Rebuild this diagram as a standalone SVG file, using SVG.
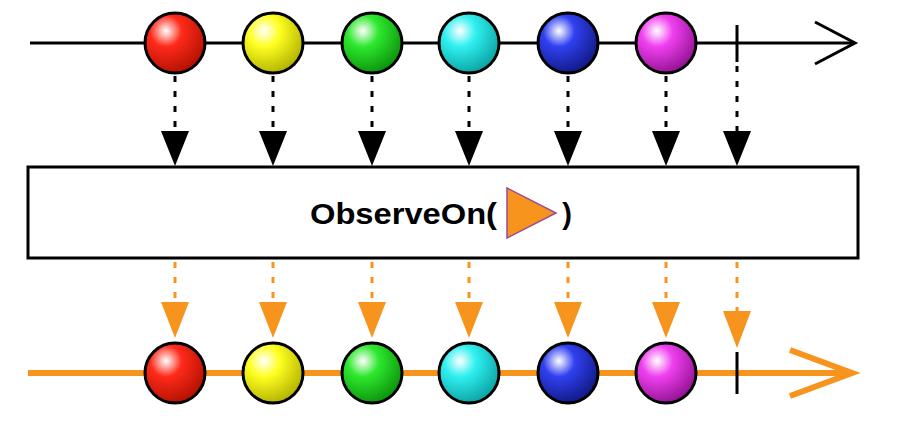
<svg xmlns="http://www.w3.org/2000/svg" width="908" height="422" viewBox="0 0 908 422">
<defs>
<style>
.tl{stroke:#000;stroke-width:3;fill:none}
.ol{stroke:#f7941d;stroke-width:6;fill:none}
.dk{stroke:#000;stroke-width:3;stroke-dasharray:6 9;fill:none}
.do{stroke:#f7941d;stroke-width:3;stroke-dasharray:6 9;fill:none}
.m{stroke:#000;stroke-width:3}
.lbl{font-family:"Liberation Sans",Arial,sans-serif;font-weight:bold;font-size:29px}
</style>
<radialGradient id="gr" cx="0.35" cy="0.3" r="0.75"><stop offset="0" stop-color="#fff"/><stop offset="0.35" stop-color="#ff2a1a"/><stop offset="1" stop-color="#b01000"/></radialGradient>
<radialGradient id="gy" cx="0.35" cy="0.3" r="0.75"><stop offset="0" stop-color="#fff"/><stop offset="0.35" stop-color="#ffff20"/><stop offset="1" stop-color="#b0b000"/></radialGradient>
<radialGradient id="gg" cx="0.35" cy="0.3" r="0.75"><stop offset="0" stop-color="#fff"/><stop offset="0.35" stop-color="#2ee82e"/><stop offset="1" stop-color="#0a900a"/></radialGradient>
<radialGradient id="gc" cx="0.35" cy="0.3" r="0.75"><stop offset="0" stop-color="#fff"/><stop offset="0.35" stop-color="#30f0f0"/><stop offset="1" stop-color="#0aa0a0"/></radialGradient>
<radialGradient id="gb" cx="0.35" cy="0.3" r="0.75"><stop offset="0" stop-color="#fff"/><stop offset="0.35" stop-color="#3040f0"/><stop offset="1" stop-color="#101880"/></radialGradient>
<radialGradient id="gm" cx="0.35" cy="0.3" r="0.75"><stop offset="0" stop-color="#fff"/><stop offset="0.35" stop-color="#f040f0"/><stop offset="1" stop-color="#901090"/></radialGradient>
</defs>
<g id="connectors">
<line class="tl" x1="30" y1="43" x2="853" y2="43"/>
<polyline class="tl" points="815,22 855,43 815,64"/>
<line class="m" x1="737" y1="25" x2="737" y2="62"/>
<line class="ol" x1="28" y1="373" x2="850" y2="373"/>
<polyline class="ol" points="790,350 852,373 790,396"/>
<line class="m" x1="737" y1="352" x2="737" y2="394"/>
<g class="dk">
<line x1="175" y1="76" x2="175" y2="132"/><line x1="273" y1="76" x2="273" y2="132"/><line x1="372" y1="76" x2="372" y2="132"/><line x1="469" y1="76" x2="469" y2="132"/><line x1="568" y1="76" x2="568" y2="132"/><line x1="666" y1="76" x2="666" y2="132"/><line x1="737" y1="66" x2="737" y2="132"/>
</g>
<g fill="#000">
<polygon points="161,131 189,131 175,166"/><polygon points="259,131 287,131 273,166"/><polygon points="358,131 386,131 372,166"/><polygon points="455,131 483,131 469,166"/><polygon points="554,131 582,131 568,166"/><polygon points="652,131 680,131 666,166"/><polygon points="723,131 751,131 737,166"/>
</g>
<g class="do">
<line x1="175" y1="262" x2="175" y2="302"/><line x1="273" y1="262" x2="273" y2="302"/><line x1="372" y1="262" x2="372" y2="302"/><line x1="469" y1="262" x2="469" y2="302"/><line x1="568" y1="262" x2="568" y2="302"/><line x1="666" y1="262" x2="666" y2="302"/><line x1="737" y1="262" x2="737" y2="312"/>
</g>
<g fill="#f7941d">
<polygon points="161,302 189,302 175,338"/><polygon points="259,302 287,302 273,338"/><polygon points="358,302 386,302 372,338"/><polygon points="455,302 483,302 469,338"/><polygon points="554,302 582,302 568,338"/><polygon points="652,302 680,302 666,338"/><polygon points="723,311 751,311 737,348"/>
</g>
</g>
<g id="box">
<rect x="28" y="167" width="830" height="91" fill="#fff" stroke="#000" stroke-width="3"/>
<text class="lbl" x="310" y="224" textLength="187" lengthAdjust="spacingAndGlyphs">ObserveOn(</text>
<polygon points="507,188 556,213 507,238" fill="#f7941d" stroke="#9b4a9b" stroke-width="1.5"/>
<text class="lbl" x="567" y="224" text-anchor="middle">)</text>
</g>
<g id="top-items" stroke="#000" stroke-width="3">
<circle cx="175" cy="43" r="30" fill="url(#gr)"/><circle cx="273" cy="43" r="30" fill="url(#gy)"/><circle cx="372" cy="43" r="30" fill="url(#gg)"/><circle cx="469" cy="43" r="30" fill="url(#gc)"/><circle cx="568" cy="43" r="30" fill="url(#gb)"/><circle cx="666" cy="43" r="30" fill="url(#gm)"/>
</g>
<g id="bottom-items" stroke="#000" stroke-width="3">
<circle cx="175" cy="373" r="30" fill="url(#gr)"/><circle cx="273" cy="373" r="30" fill="url(#gy)"/><circle cx="372" cy="373" r="30" fill="url(#gg)"/><circle cx="469" cy="373" r="30" fill="url(#gc)"/><circle cx="568" cy="373" r="30" fill="url(#gb)"/><circle cx="666" cy="373" r="30" fill="url(#gm)"/>
</g>
</svg>
